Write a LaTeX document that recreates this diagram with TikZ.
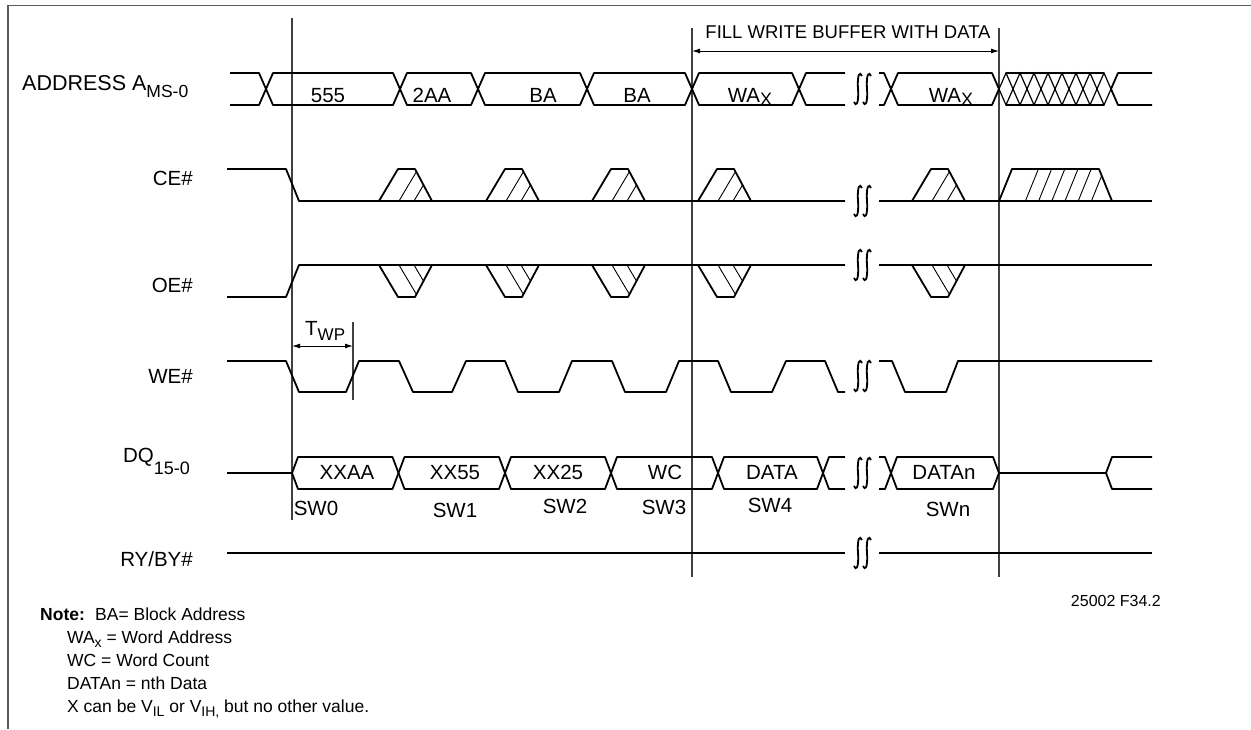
\documentclass[tikz,border=0pt]{standalone}
\usepackage{fontspec}
\setmainfont{Liberation Sans}
\usetikzlibrary{arrows.meta}
\newcommand\subl[3][6pt]{\raisebox{-#1}{\fontsize{#2}{#2}\selectfont #3}}
\newcommand\hexA[2]{\draw[sig] (#1,89) -- (#1+7,73) -- (#2-7,73) -- (#2,89) -- (#2-7,105) -- (#1+7,105) -- cycle;}
\newcommand\hexD[2]{\draw[sig] (#1,473) -- (#1+6,457) -- (#2-6,457) -- (#2,473) -- (#2-6,489) -- (#1+6,489) -- cycle;}
\newcommand\cetrap[1]{%
  \draw[sig] (#1,201) -- ++(19,-32) -- ++(17,0) -- ++(17,32);
  \begin{scope}
    \clip (#1,201) -- ++(19,-32) -- ++(17,0) -- ++(17,32) -- cycle;
    \draw[hatchl] (#1+20,201) -- ++(19,-32) (#1+35,201) -- ++(19,-32);
  \end{scope}}
\newcommand\oetrap[1]{%
  \draw[sig] (#1,265) -- ++(19,32) -- ++(17,0) -- ++(17,-32);
  \begin{scope}
    \clip (#1,265) -- ++(19,32) -- ++(17,0) -- ++(17,-32) -- cycle;
    \draw[hatchl] (#1+20,265) -- ++(19,32) (#1+35,265) -- ++(19,32);
  \end{scope}}
\begin{document}
\begin{tikzpicture}[x=1pt,y=-1pt,
  sig/.style={line width=1.8pt, line join=round},
  vref/.style={line width=1.1pt, black!75},
  hatchl/.style={line width=0.9pt},
  lbl/.style={font=\fontsize{20.5}{22}\selectfont, inner sep=0pt},
  arr/.style={line width=1pt, {Latex[length=8pt,width=5pt]}-{Latex[length=8pt,width=5pt]}},
  brk/.pic={\foreach \d in {-4.5,4.5} \draw[line width=1.8pt] (\d+4,-13) .. controls (\d+2,-18) and (\d-1,-15) .. (\d,0) .. controls (\d+1,15) and (\d-2,18) .. (\d-4,13);}
]
\useasboundingbox (0,0) rectangle (1251,729);
\fill[white] (0,0) rectangle (1251,729);
\draw[line width=1.4pt, black!65] (8,729) -- (8,5.5) -- (1251,5.5);

% reference verticals
\coordinate (v1t) at (292,18);  \coordinate (v1b) at (292,520);
\coordinate (v2t) at (692,28);  \coordinate (v2b) at (692,577);
\coordinate (v3t) at (999,28);  \coordinate (v3b) at (999,577);
\coordinate (tkt) at (353,322); \coordinate (tkb) at (353,400);
\draw[vref] (v1t) -- (v1b);
\draw[vref] (v2t) -- (v2b);
\draw[vref] (v3t) -- (v3b);
\draw[vref] (tkt) -- (tkb);
\coordinate (fa) at (692,51); \coordinate (fb) at (999,51);
\draw[arr] (fa) -- (fb);
\coordinate (ta) at (292,346); \coordinate (tb) at (353,346);
\draw[arr] (ta) -- (tb);
\node[font=\fontsize{18.5}{20}\selectfont, inner sep=0pt, anchor=base] (fill) at (848,38) {FILL WRITE BUFFER WITH DATA};
\node[lbl, anchor=base west] (twp) at (305,335) {T\subl[5pt]{17}{WP}};

% ADDRESS
\draw[sig] (230,73) -- (259,73) -- (266,89) -- (259,105) -- (230,105);
\hexA{266}{400}\hexA{400}{478}\hexA{478}{587}\hexA{587}{692}\hexA{692}{799}
\draw[sig] (845,73) -- (806,73) -- (799,89) -- (806,105) -- (845,105);
\pic at (862.5,89) {brk};
\draw[sig] (879,73) -- (884,73) -- (891,89) -- (884,105) -- (879,105);
\hexA{891}{999}
\foreach \k in {0,...,7} \draw[line width=1.2pt] (999+14*\k,89) -- ++(7,-16) -- ++(7,16) -- ++(-7,16) -- cycle;
\draw[sig] (1006,73) -- (1104,73) (1006,105) -- (1104,105);
\draw[sig] (1111,89) -- (1118,73) -- (1152,73) (1111,89) -- (1118,105) -- (1152,105);
\node[lbl, anchor=base] (a1) at (328,102) {555};
\node[lbl, anchor=base] (a2) at (432,102) {2AA};
\node[lbl, anchor=base] (a3) at (543,102) {BA};
\node[lbl, anchor=base] (a4) at (637,102) {BA};
\node[lbl, anchor=base] (a5) at (750,102) {WA\subl[3pt]{18}{X}};
\node[lbl, anchor=base] (a6) at (951,102) {WA\subl[3pt]{18}{X}};

% CE#
\draw[sig] (227,169) -- (286,169) -- (299,201) -- (845,201);
\draw[sig] (879,201) -- (1152,201);
\pic at (862.5,201) {brk};
\cetrap{379}\cetrap{486}\cetrap{592}\cetrap{698}\cetrap{912}
\draw[sig] (999,201) -- (1012,169) -- (1099,169) -- (1112,201);
\begin{scope}
  \clip (999,201) -- (1012,169) -- (1099,169) -- (1112,201) -- cycle;
  \foreach \k in {2,...,7} \draw[hatchl] (999+13.2*\k,201) -- ++(13,-32);
\end{scope}

% OE#
\draw[sig] (227,297) -- (286,297) -- (299,265) -- (845,265);
\draw[sig] (879,265) -- (1152,265);
\pic at (862.5,265) {brk};
\oetrap{379}\oetrap{486}\oetrap{592}\oetrap{698}\oetrap{912}

% WE#
\draw[sig] (227,361) -- (286,361) -- (299,392) -- (346,392) -- (359,361) -- (399,361) -- (413,392) -- (452,392) -- (466,361) -- (505,361) -- (518,392) -- (559,392) -- (572,361) -- (612,361) -- (625,392) -- (666,392) -- (679,361) -- (718,361) -- (731,392) -- (772,392) -- (786,361) -- (825,361) -- (838,392) -- (845,392);
\pic at (862.5,376) {brk};
\draw[sig] (879,361) -- (892,361) -- (905,392) -- (946,392) -- (958,361) -- (1152,361);

% DQ
\draw[sig] (227,473) -- (292,473);
\hexD{292}{398.5}\hexD{398.5}{505}\hexD{505}{611}\hexD{611}{718}\hexD{718}{823}
\draw[sig] (845,457) -- (829,457) -- (823,473) -- (829,489) -- (845,489);
\pic at (862.5,473) {brk};
\draw[sig] (879,457) -- (885,457) -- (891,473) -- (885,489) -- (879,489);
\hexD{891}{999}
\draw[sig] (999,473) -- (1106,473) -- (1112,457) -- (1152,457) (1106,473) -- (1112,489) -- (1152,489);
\node[lbl, anchor=base] (d1) at (347,479) {XXAA};
\node[lbl, anchor=base] (d2) at (455,479) {XX55};
\node[lbl, anchor=base] (d3) at (558,479) {XX25};
\node[lbl, anchor=base] (d4) at (665,479) {WC};
\node[lbl, anchor=base] (d5) at (772,479) {DATA};
\node[lbl, anchor=base] (d6) at (944,479) {DATAn};
\node[lbl, anchor=base] (s0) at (316,515) {SW0};
\node[lbl, anchor=base] (s1) at (455,517) {SW1};
\node[lbl, anchor=base] (s2) at (565,513) {SW2};
\node[lbl, anchor=base] (s3) at (664,514) {SW3};
\node[lbl, anchor=base] (s4) at (770,512) {SW4};
\node[lbl, anchor=base] (s5) at (948,516) {SWn};

% RY/BY#
\draw[sig] (227,553) -- (845,553) (879,553) -- (1152,553);
\pic at (862.5,553) {brk};

% signal labels
\node[lbl, font=\fontsize{21.5}{22}\selectfont, anchor=base west] (laddr) at (22,90) {ADDRESS A\subl[7pt]{17.5}{MS-0}};
\node[lbl, anchor=base east] (lce) at (193,185) {CE\#};
\node[lbl, anchor=base east] (loe) at (193,292) {OE\#};
\node[lbl, anchor=base east] (lwe) at (193,383) {WE\#};
\node[lbl, anchor=base east] (ldq) at (190,462) {DQ\subl[12pt]{18}{15-0}};
\node[lbl, anchor=base east] (lry) at (193,566) {RY/BY\#};

\node[font=\fontsize{16}{18}\selectfont, inner sep=0pt, anchor=base east] (fig) at (1161,606) {25002 F34.2};

% notes
\begin{scope}[every node/.style={font=\fontsize{17.5}{20}\selectfont, inner sep=0pt, anchor=base west}]
\node (n0) at (40,620) {\bfseries Note:};
\node (n1) at (95,620) {BA= Block Address};
\node (n2) at (67,643) {WA\subl[4pt]{14}{x} = Word Address};
\node (n3) at (67,666) {WC = Word Count};
\node (n4) at (67,689) {DATAn = nth Data};
\node (n5) at (67,712) {X can be V\subl[4pt]{14}{IL} or V\subl[4pt]{14}{IH,} but no other value.};
\end{scope}
\end{tikzpicture}
\end{document}
